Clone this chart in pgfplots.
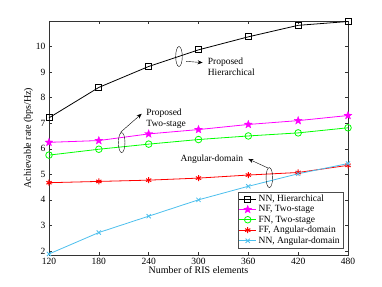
\documentclass[border=0pt]{standalone}
\usepackage{pgfplots}
\pgfplotsset{compat=1.18}
\usepackage{fontspec}
\setmainfont{Liberation Serif}
\usetikzlibrary{arrows.meta}
\definecolor{mlblue}{rgb}{0.30,0.75,0.93}
\definecolor{mmag}{rgb}{1,0,1}
\definecolor{mgreen}{rgb}{0,1,0}
\definecolor{mred}{rgb}{1,0,0}
\pgfdeclareplotmark{pentagram}{%
  \pgfpathmoveto{\pgfqpointpolar{90}{\pgfplotmarksize}}%
  \pgfpathlineto{\pgfqpointpolar{126}{0.42\pgfplotmarksize}}%
  \pgfpathlineto{\pgfqpointpolar{162}{\pgfplotmarksize}}%
  \pgfpathlineto{\pgfqpointpolar{198}{0.42\pgfplotmarksize}}%
  \pgfpathlineto{\pgfqpointpolar{234}{\pgfplotmarksize}}%
  \pgfpathlineto{\pgfqpointpolar{270}{0.42\pgfplotmarksize}}%
  \pgfpathlineto{\pgfqpointpolar{306}{\pgfplotmarksize}}%
  \pgfpathlineto{\pgfqpointpolar{342}{0.42\pgfplotmarksize}}%
  \pgfpathlineto{\pgfqpointpolar{18}{\pgfplotmarksize}}%
  \pgfpathlineto{\pgfqpointpolar{54}{0.42\pgfplotmarksize}}%
  \pgfpathclose
  \pgfusepathqfillstroke}
\begin{document}
\begin{tikzpicture}
\useasboundingbox (-49pt,-31pt) rectangle (333pt,255pt);
\begin{axis}[
  at={(0pt,0pt)}, anchor=south west,
  width=299pt, height=234pt, scale only axis,
  xmin=120, xmax=480, ymin=1.84, ymax=11.0,
  xtick={120,180,...,480}, ytick={2,3,...,10},
  tick align=inside, tick pos=both,
  major tick length=3pt,
  axis line style={black!80},
  every tick/.style={black!80},
  /pgf/number format/assume math mode=true,
  tick label style={font=\fontsize{9.5}{11}\selectfont},
  label style={font=\fontsize{10}{12}\selectfont},
  xlabel={Number of RIS elements},
  ylabel={Achievable rate (bps/Hz)},
  xlabel style={yshift=5pt},
  ylabel style={yshift=-4pt},
  legend style={at={(rel axis cs:0.983,0.03)}, anchor=south east,
    font=\fontsize{9.5}{10}\selectfont, inner sep=1pt, row sep=-1.5pt,
    draw=black!70, cells={anchor=west}},
]
\addplot[black, thick, mark=square, mark size=3pt, mark options={solid}] coordinates {
(120,7.21) (180,8.40) (240,9.22) (300,9.87) (360,10.38) (420,10.83) (480,10.98)};
\addlegendentry{NN, Hierarchical}
\addplot[mmag, thick, mark=pentagram, mark size=4.2pt, mark options={draw=mmag, fill=mmag, line width=0.3pt}] coordinates {
(120,6.25) (180,6.32) (240,6.58) (300,6.75) (360,6.95) (420,7.10) (480,7.30)};
\addlegendentry{NF, Two-stage}
\addplot[mgreen, thick, mark=o, mark size=3.3pt] coordinates {
(120,5.75) (180,5.98) (240,6.18) (300,6.36) (360,6.50) (420,6.62) (480,6.82)};
\addlegendentry{FN, Two-stage}
\addplot[mred, thick, mark=asterisk, mark size=3pt, mark options={line width=1pt}] coordinates {
(120,4.67) (180,4.72) (240,4.77) (300,4.85) (360,4.97) (420,5.07) (480,5.35)};
\addlegendentry{FF, Angular-domain}
\addplot[mlblue, thick, mark=x, mark size=3pt] coordinates {
(120,1.88) (180,2.72) (240,3.36) (300,4.00) (360,4.53) (420,5.02) (480,5.42)};
\addlegendentry{NN, Angular-domain}
% annotations
\draw[black, thin] (axis cs:276.5,9.61) ellipse [x radius=3.3pt, y radius=10pt];
\draw[black, thin, -{Stealth[length=5pt,width=4pt]}] (axis cs:285,9.42) -- (axis cs:305,9.37);
\node[anchor=west, align=left, font=\fontsize{9.5}{11}\selectfont, inner sep=0pt] at (axis cs:311,9.19) {Proposed\\Hierarchical};
\draw[black, thin] (axis cs:207.5,6.24) ellipse [x radius=3.3pt, y radius=10pt];
\draw[black, thin, -{Stealth[length=5pt,width=4pt]}] (axis cs:206,6.64) -- (axis cs:231.6,7.37);
\node[anchor=west, align=left, font=\fontsize{9.5}{11}\selectfont, inner sep=0pt] at (axis cs:237,7.19) {Proposed\\Two-stage};
\draw[black, thin] (axis cs:385.3,4.87) ellipse [x radius=3.3pt, y radius=10pt];
\draw[black, thin, -{Stealth[length=5pt,width=4pt]}] (axis cs:384,5.24) -- (axis cs:360,5.6);
\node[anchor=east, font=\fontsize{9.5}{11}\selectfont, inner sep=0pt] at (axis cs:354,5.6) {Angular-domain};
\end{axis}
\end{tikzpicture}
\end{document}
